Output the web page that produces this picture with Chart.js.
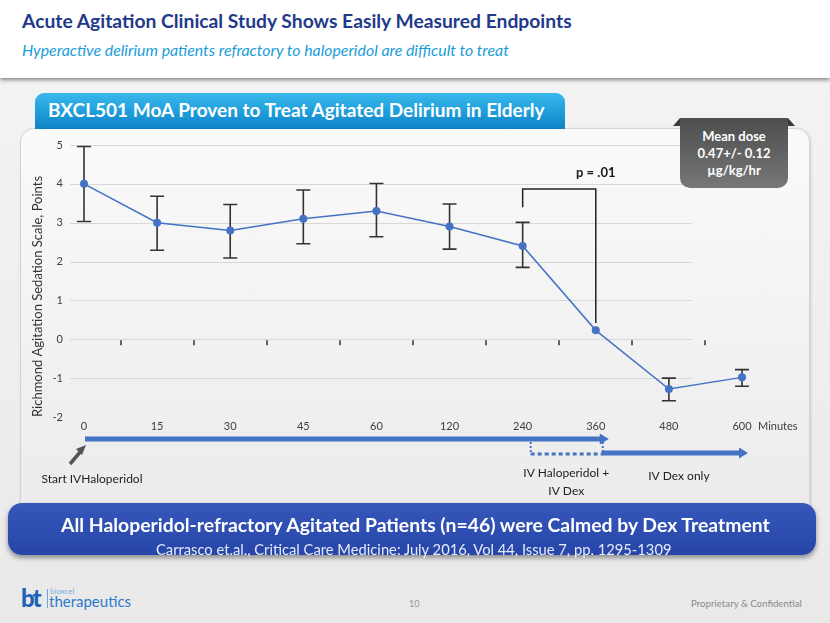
<!DOCTYPE html>
<html><head><meta charset="utf-8">
<script src="https://cdn.jsdelivr.net/npm/chart.js@4.4.1/dist/chart.umd.min.js"></script>
<style>
html,body{margin:0;padding:0;}
body{width:830px;height:623px;position:relative;overflow:hidden;font-family:Lato,'Open Sans',sans-serif;background:linear-gradient(180deg,#f4f4f4 0%,#eeeeee 60%,#e9e9e9 100%);}
.abs{position:absolute;white-space:nowrap;}
#header{left:0;top:0;width:830px;height:78px;background:#fff;box-shadow:0 2px 4px rgba(0,0,0,.45);}
#title{left:22px;top:8px;font-weight:700;color:#1F3A8A;font-size:20px;line-height:26px;}
#subtitle{left:22px;top:40px;font-style:italic;color:#1A9DD9;font-size:15px;line-height:20px;}
#panel{left:20px;top:128px;width:788px;height:392px;border-radius:14px;background:linear-gradient(180deg,#fafafa,#ebebeb);border:1px solid #d4d4d4;box-shadow:1px 1px 3px rgba(0,0,0,.15);}
#tab{left:35px;top:93px;width:530px;height:36px;border-radius:9px 9px 0 0;background:linear-gradient(180deg,#3BB9EC 0%,#1D9CDA 55%,#0F82C6 100%);}
#tabtext{left:48px;top:96px;color:#fff;font-weight:700;font-size:18px;line-height:28px;}
#dose{left:680px;top:118px;width:108px;height:70px;background:linear-gradient(180deg,#4d4d4d,#777);border-radius:0 0 10px 10px;color:#fff;font-weight:700;font-size:13px;text-align:center;line-height:17px;box-sizing:border-box;padding-top:10px;z-index:5;}
.tri{position:absolute;width:0;height:0;z-index:5;}
#triL{left:673px;top:118px;border-bottom:8px solid #3a3a3a;border-left:7px solid transparent;}
#triR{left:788px;top:118px;border-bottom:8px solid #3a3a3a;border-right:7px solid transparent;}
#chart{position:absolute;left:0;top:0;z-index:3;}
#blue{left:8px;top:503px;width:808px;height:52px;border-radius:14px;background:linear-gradient(180deg,#3658BA,#2745A9);box-shadow:0 3px 5px rgba(0,0,0,.4);z-index:6;}
#bmain{left:61px;top:513px;color:#fff;font-weight:700;font-size:19px;line-height:24px;z-index:7;}
#bsub{left:156px;top:539px;color:#e6ebf8;font-size:15px;line-height:20px;z-index:7;}
#page{left:409px;top:598px;color:#999;font-size:9px;}
#prop{left:691px;top:597px;color:#8a8a8a;font-size:11px;}
#logo{left:21px;top:586px;color:#1D6DBE;}
#logo .bt{position:absolute;left:0;top:0;font-weight:900;font-size:24px;line-height:24px;letter-spacing:-2px;color:#1E63B5;}
#logo .bar{position:absolute;left:26px;top:3px;width:1px;height:19px;background:#6aa6dc;}
#logo .bx{position:absolute;left:29px;top:1px;font-size:8px;line-height:9px;color:#7aaee0;}
#logo .th{position:absolute;left:28px;top:7px;font-size:15px;line-height:17px;color:#2A7BCB;}
</style></head>
<body>
<div id="header" class="abs"></div>
<div id="title" class="abs" data-w="550">Acute Agitation Clinical Study Shows Easily Measured Endpoints</div>
<div id="subtitle" class="abs" data-w="487">Hyperactive delirium patients refractory to haloperidol are difficult to treat</div>
<div id="panel" class="abs"></div>
<div id="tab" class="abs"></div>
<div id="tabtext" class="abs" data-w="497">BXCL501 MoA Proven to Treat Agitated Delirium in Elderly</div>
<canvas id="chart" width="830" height="623"></canvas>
<div id="triL" class="tri"></div><div id="triR" class="tri"></div>
<div id="dose" class="abs">Mean dose<br>0.47+/- 0.12<br>µg/kg/hr</div>
<div id="blue" class="abs"></div>
<div id="bmain" class="abs" data-w="709">All Haloperidol-refractory Agitated Patients (n=46) were Calmed by Dex Treatment</div>
<div id="bsub" class="abs" data-w="516">Carrasco et.al., Critical Care Medicine: July 2016, Vol 44, Issue 7, pp. 1295-1309</div>
<div id="logo" class="abs"><span class="bt">bt</span><span class="bar"></span><span class="bx">bioxcel</span><span class="th">therapeutics</span></div>
<div id="page" class="abs">10</div>
<div id="prop" class="abs" data-w="111">Proprietary &amp; Confidential</div>
<script>
// ---- data ----
const categories = ['0','15','30','45','60','120','240','360','480','600'];
const means      = [4.0, 3.0, 2.8, 3.1, 3.3, 2.9, 2.4, 0.23, -1.28, -0.98];
const errLow     = [3.03, 2.29, 2.09, 2.46, 2.64, 2.32, 1.85, null, -1.58, -1.21];
const errHigh    = [4.96, 3.68, 3.47, 3.84, 4.01, 3.48, 3.01, null, -1.0, -0.78];
const yTicks     = [-2, -1, 0, 1, 2, 3, 4, 5];
const bracketIdx = [6, 7];            // categories joined by the significance bracket
const bracketVal = [3.4, 3.87, 0.42]; // left end, top, right end (scale units)
const pText = 'p = .01';
const pVal = 4.28;
const xUnit = 'Minutes';
const yTitle = 'Richmond Agitation Sedation Scale, Points';
const phases = [
  {from: 0, to: 7, label: ['Start IVHaloperidol']},
  {from: 6, to: 7, label: ['IV Haloperidol +', 'IV Dex']},
  {from: 7, to: 9, label: ['IV Dex only']}
];

// fit HTML text widths
document.querySelectorAll('[data-w]').forEach(el => {
  const target = +el.dataset.w;
  const fs = parseFloat(getComputedStyle(el).fontSize);
  const w = el.getBoundingClientRect().width;
  if (w > 0) el.style.fontSize = (fs * target / w).toFixed(2) + 'px';
});

const FONT = 'Lato, "Open Sans", sans-serif';
const annot = {
  id: 'annot',
  beforeDatasetsDraw(chart) {
    const {ctx, scales: {x, y}} = chart;
    ctx.save();
    ctx.strokeStyle = '#d8d8d8'; ctx.lineWidth = 1;
    const gx0 = x.getPixelForValue(0) - 14, gx1 = x.getPixelForValue(8) + 23;
    yTicks.forEach(v => {
      if (v === yTicks[0]) return;
      const py = Math.round(y.getPixelForValue(v)) + 0.5;
      ctx.beginPath(); ctx.moveTo(gx0, py); ctx.lineTo(gx1, py); ctx.stroke();
    });
    // error bars
    ctx.strokeStyle = '#333'; ctx.lineWidth = 1.6;
    means.forEach((m, i) => {
      if (errLow[i] == null) return;
      const px = x.getPixelForValue(i);
      const t = y.getPixelForValue(errHigh[i]), b = y.getPixelForValue(errLow[i]);
      ctx.beginPath();
      ctx.moveTo(px, t); ctx.lineTo(px, b);
      ctx.moveTo(px - 7, t); ctx.lineTo(px + 7, t);
      ctx.moveTo(px - 7, b); ctx.lineTo(px + 7, b);
      ctx.stroke();
    });
    // tick marks on zero line at category boundaries
    const y0 = y.getPixelForValue(0);
    ctx.strokeStyle = '#333'; ctx.lineWidth = 1.5;
    for (let i = 0; i < categories.length - 1; i++) {
      const px = Math.round((x.getPixelForValue(i) + x.getPixelForValue(i + 1)) / 2);
      ctx.beginPath(); ctx.moveTo(px, y0 + 1); ctx.lineTo(px, y0 + 6); ctx.stroke();
    }
    ctx.restore();
  },
  afterDatasetsDraw(chart) {
    const {ctx, scales: {x, y}} = chart;
    ctx.save();
    // significance bracket
    const bx0 = x.getPixelForValue(bracketIdx[0]), bx1 = x.getPixelForValue(bracketIdx[1]);
    ctx.strokeStyle = '#222'; ctx.lineWidth = 1.5;
    ctx.beginPath();
    ctx.moveTo(bx0, y.getPixelForValue(bracketVal[0]));
    ctx.lineTo(bx0, y.getPixelForValue(bracketVal[1]));
    ctx.lineTo(bx1, y.getPixelForValue(bracketVal[1]));
    ctx.lineTo(bx1, y.getPixelForValue(bracketVal[2]));
    ctx.stroke();
    ctx.fillStyle = '#1a1a1a'; ctx.font = 'bold 13px ' + FONT;
    ctx.textAlign = 'center'; ctx.textBaseline = 'middle';
    ctx.fillText(pText, bx1, y.getPixelForValue(pVal));
    // unit label
    ctx.fillStyle = '#404040'; ctx.font = '11px ' + FONT; ctx.textAlign = 'left';
    ctx.fillText(xUnit, x.getPixelForValue(categories.length - 1) + 16, 426);

    // phase arrows
    const blue = '#4472C4';
    const arrow = (xa, xb, yy) => {
      ctx.fillStyle = blue;
      ctx.fillRect(xa, yy - 2.5, xb - xa - 8, 5);
      ctx.beginPath(); ctx.moveTo(xb - 9, yy - 5.5); ctx.lineTo(xb, yy); ctx.lineTo(xb - 9, yy + 5.5); ctx.closePath(); ctx.fill();
    };
    const pMain = phases[0], pBoth = phases[1], pDex = phases[2];
    arrow(x.getPixelForValue(pMain.from) + 1, x.getPixelForValue(pMain.to) + 13, 439);
    arrow(x.getPixelForValue(pDex.from) + 6, x.getPixelForValue(pDex.to) + 6, 453);
    // dotted combined phase
    const dx0 = x.getPixelForValue(pBoth.from) + 8, dx1 = x.getPixelForValue(pBoth.to) + 7;
    ctx.strokeStyle = blue; ctx.lineWidth = 2; ctx.setLineDash([2, 2]);
    ctx.beginPath(); ctx.moveTo(dx0, 442); ctx.lineTo(dx0, 454); ctx.stroke();
    ctx.beginPath(); ctx.moveTo(dx1, 442); ctx.lineTo(dx1, 454); ctx.stroke();
    ctx.lineWidth = 3; ctx.setLineDash([4, 3]);
    ctx.beginPath(); ctx.moveTo(dx0, 454); ctx.lineTo(dx1, 454); ctx.stroke();
    ctx.setLineDash([]);
    // gray start pointer
    const sx = x.getPixelForValue(pMain.from);
    ctx.strokeStyle = '#555'; ctx.fillStyle = '#555'; ctx.lineWidth = 3.5;
    ctx.beginPath(); ctx.moveTo(sx - 14, 464); ctx.lineTo(sx - 3, 451); ctx.stroke();
    ctx.beginPath(); ctx.moveTo(sx + 2, 445); ctx.lineTo(sx - 8, 449); ctx.lineTo(sx - 2, 455); ctx.closePath(); ctx.fill();

    // phase labels
    ctx.fillStyle = '#222'; ctx.font = '12px ' + FONT; ctx.textAlign = 'center'; ctx.textBaseline = 'middle';
    ctx.fillText(pMain.label[0], sx + 8, 479);
    const bc = (x.getPixelForValue(pBoth.from) + x.getPixelForValue(pBoth.to)) / 2 + 7;
    ctx.fillText(pBoth.label[0], bc, 473);
    ctx.fillText(pBoth.label[1], bc, 491);
    const dc = (x.getPixelForValue(pDex.from) + x.getPixelForValue(pDex.to)) / 2 + 10;
    ctx.fillText(pDex.label[0], dc, 476);
    ctx.restore();
  }
};

new Chart(document.getElementById('chart'), {
  type: 'line',
  data: {
    labels: categories,
    datasets: [{
      data: means,
      borderColor: '#4472C4', backgroundColor: '#4472C4',
      borderWidth: 1.5, pointRadius: 4, pointBorderWidth: 0,
      pointBackgroundColor: '#4472C4', tension: 0, clip: false
    }]
  },
  options: {
    responsive: false, animation: false, devicePixelRatio: 1,
    layout: {padding: {left: 0, top: 145, right: 88, bottom: 186}},
    plugins: {legend: {display: false}, tooltip: {enabled: false}},
    scales: {
      x: {
        type: 'category', offset: false,
        grid: {display: false, drawTicks: false}, border: {display: false},
        ticks: {font: {family: FONT, size: 11}, color: '#404040', padding: 3, maxRotation: 0, autoSkip: false},
        afterFit(s) { s.height = 20; }
      },
      y: {
        min: yTicks[0], max: yTicks[yTicks.length - 1],
        grid: {display: false, drawTicks: false}, border: {display: false},
        afterBuildTicks(s) { s.ticks = yTicks.map(v => ({value: v})); },
        ticks: {font: {family: FONT, size: 11}, color: '#404040', padding: 21},
        title: {display: true, text: yTitle, align: 'start', color: '#333',
                font: {family: FONT, size: 13}, padding: {top: 30, bottom: 0}},
        afterFit(s) { s.width = 84; }
      }
    }
  },
  plugins: [annot]
});
</script>
</body></html>
